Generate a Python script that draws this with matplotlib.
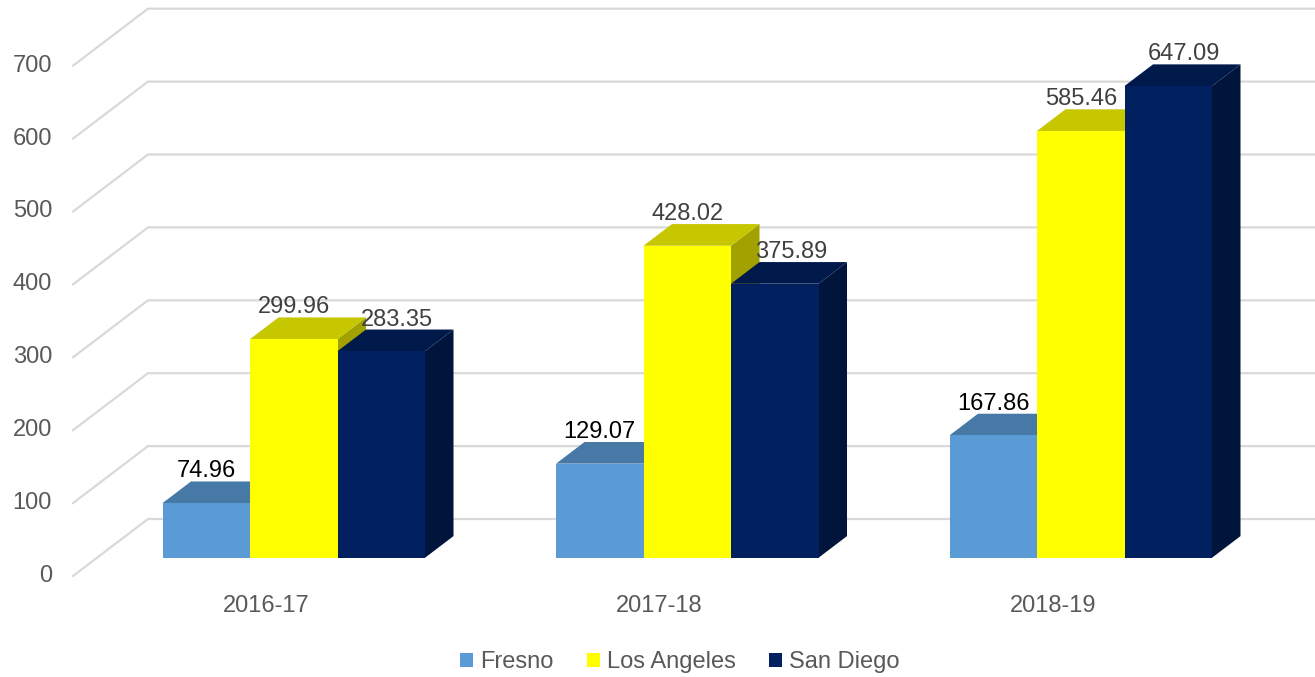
import numpy as np
import matplotlib.pyplot as plt
from matplotlib.patches import Polygon, Patch

# datos del gráfico
categorias = ['2016-17', '2017-18', '2018-19']
series = ['Fresno', 'Los Angeles', 'San Diego']
fresno = [74.96, 129.07, 167.86]
los_angeles = [299.96, 428.02, 585.46]
san_diego = [283.35, 375.89, 647.09]
valores = [fresno, los_angeles, san_diego]
ticks_y = list(range(0, 800, 100))

# estilo
colores = ['#5B9BD5', '#FFFF00', '#002060']
color_etiqueta = ['#000000', '#404040', '#404040']
desplaz_etiqueta = [0, 0, 16]   # px, desplazamiento horizontal de la etiqueta
gris_texto = '#595959'
fuente = 'Liberation Sans'

# geometría (pixeles)
PX_CAT = 393.5       # pixeles por categoría
PX_VAL = 0.729       # pixeles por unidad de valor
PROF_X, PROF_Y = 75, 57
ANCHO_BARRA = 87.5 / PX_CAT
F0, F1 = 0.32, 0.70  # profundidad de las barras

W, H = 1315, 677
fig = plt.figure(figsize=(W / 100, H / 100), dpi=100)
ax = fig.add_axes([0, 0, 1, 1])
ax.set_xlim(-0.5 - 73 / PX_CAT, -0.5 + (W - 73) / PX_CAT)
ax.set_ylim(-(H - 576) / PX_VAL, 576 / PX_VAL)
ax.axis('off')

ddx = PROF_X / PX_CAT
ddv = PROF_Y / PX_VAL


def proj(x, v, f):
    return (x + f * ddx, v + f * ddv)


def oscurecer(c, k):
    r, g, b = plt.matplotlib.colors.to_rgb(c)
    return (r * k, g * k, b * k)


# rejilla: diagonal del lado izquierdo + pared del fondo
x_fin = ax.get_xlim()[1] + 0.1
for v in ticks_y:
    pts = [proj(-0.5, v, 0), proj(-0.5, v, 1), proj(x_fin, v, 1)]
    ax.plot([p[0] for p in pts], [p[1] for p in pts], color='#D9D9D9', lw=1.6, zorder=1)
    ax.annotate(str(v), proj(-0.5, v, 0), xytext=(-21, 0), textcoords='offset pixels',
                ha='right', va='center', fontsize=17, color=gris_texto, family=fuente)

# barras 3D
z = 2
for i in range(len(categorias)):
    for j in range(len(series)):
        v = valores[j][i]
        x1 = i + (j - 1.5) * ANCHO_BARRA
        x2 = x1 + ANCHO_BARRA
        c = colores[j]
        lado = [proj(x2, 0, F0), proj(x2, 0, F1), proj(x2, v, F1), proj(x2, v, F0)]
        techo = [proj(x1, v, F0), proj(x2, v, F0), proj(x2, v, F1), proj(x1, v, F1)]
        frente = [proj(x1, 0, F0), proj(x2, 0, F0), proj(x2, v, F0), proj(x1, v, F0)]
        ax.add_patch(Polygon(lado, closed=True, fc=oscurecer(c, 0.63), ec='none', zorder=z))
        ax.add_patch(Polygon(techo, closed=True, fc=oscurecer(c, 0.78), ec='none', zorder=z + 0.1))
        ax.add_patch(Polygon(frente, closed=True, fc=c, ec='none', zorder=z + 0.2))
        z += 1

# etiquetas de datos
for i in range(len(categorias)):
    for j in range(len(series)):
        v = valores[j][i]
        cx = i + (j - 1.0) * ANCHO_BARRA
        dx = -(F1 - F0) * PROF_X + desplaz_etiqueta[j]
        ax.annotate(f'{v:.2f}', proj(cx, v, F1), xytext=(dx, 10), textcoords='offset pixels',
                    ha='center', va='center', fontsize=17, color=color_etiqueta[j],
                    family=fuente, zorder=50)

# etiquetas de categoría
for i, cat in enumerate(categorias):
    ax.annotate(cat, proj(i, 0, 0), xytext=(-4, -30), textcoords='offset pixels',
                ha='center', va='center', fontsize=17, color=gris_texto, family=fuente)

# leyenda
handles = [Patch(facecolor=c, edgecolor='none', label=s) for c, s in zip(colores, series)]
leg = fig.legend(handles=handles, loc='center', bbox_to_anchor=(0.517, 1 - 662 / H), ncol=3,
                 frameon=False, fontsize=17, handlelength=0.55, handleheight=0.55,
                 handletextpad=0.3, columnspacing=1.4, prop={'family': fuente, 'size': 17})
for t in leg.get_texts():
    t.set_color(gris_texto)

fig.savefig('out.png', dpi=100)
